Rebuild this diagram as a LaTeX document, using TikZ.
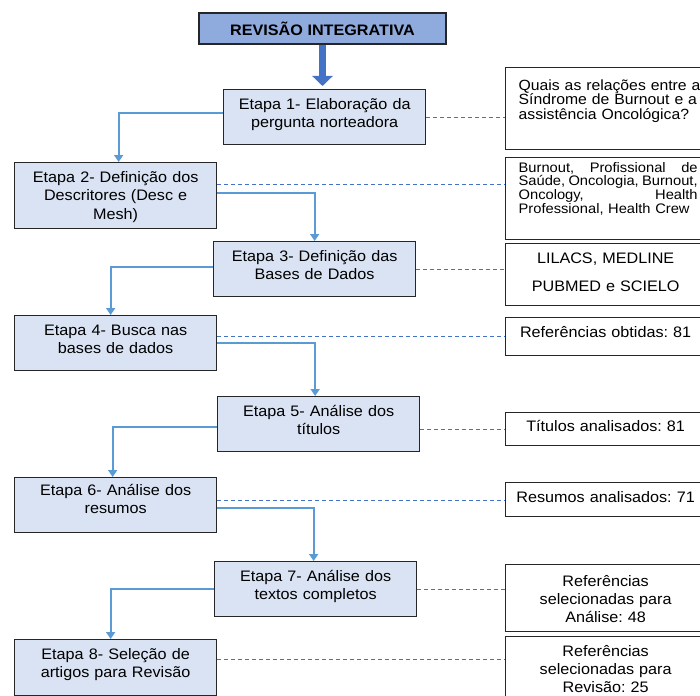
\documentclass[tikz,border=0pt]{standalone}
\usepackage{fontspec}
\setmainfont{Liberation Sans}[FakeStretch=1.065]
\usetikzlibrary{arrows.meta,positioning}
\definecolor{stagefill}{HTML}{DAE3F3}
\definecolor{titlefill}{HTML}{8FAADC}
\definecolor{flowblue}{HTML}{5B9BD5}
\definecolor{darkblue}{HTML}{4472C4}
\definecolor{boxline}{HTML}{262626}
\frenchspacing

\begin{document}
\begin{tikzpicture}[x=1pt, y=-1pt,
    stage/.style={draw=boxline, line width=1.3pt, fill=stagefill, anchor=north west, inner sep=0pt, text width=202pt, align=center, text height=19.5pt, text depth=35.5pt, font=\fontsize{15.2}{18.5}\selectfont},
    info/.style={draw=boxline, line width=1.3pt, fill=white, anchor=north west, inner sep=0pt, text width=200pt, align=center, font=\fontsize{15.2}{18}\selectfont},
    titlebox/.style={draw=boxline, line width=1.3pt, fill=titlefill, minimum width=247pt, minimum height=31pt, inner sep=0pt, font=\fontsize{15.2}{18}\selectfont\bfseries},
    flow/.style={-{Triangle[width=9pt,length=7pt]}, line width=2.2pt, draw=flowblue},
    link/.style={draw=darkblue, line width=1pt, dash pattern=on 4pt off 3pt},
    bigarrow/.style={-{Triangle[width=20pt,length=10pt]}, line width=7pt, draw=darkblue, shorten >=3pt}
  ]
    \useasboundingbox (0,0) rectangle (700,695);

    \node[titlebox] (title) at (322.5,28.5) {REVISÃO INTEGRATIVA};

    % etapas
    \node[stage] (step1) at (223,89) {Etapa 1- Elaboração da\\pergunta norteadora};
    \node[stage, text depth=46.5pt] (step2) at (14,162) {Etapa 2- Definição dos\\Descritores (Desc e\\Mesh)};
    \node[stage] (step3) at (213,241) {Etapa 3- Definição das\\Bases de Dados};
    \node[stage] (step4) at (14,315) {Etapa 4- Busca nas\\bases de dados};
    \node[stage] (step5) at (217,396) {Etapa 5- Análise dos\\títulos};
    \node[stage, text height=17.5pt, text depth=37.5pt] (step6) at (14,477) {Etapa 6- Análise dos\\resumos};
    \node[stage] (step7) at (214,561) {Etapa 7- Análise dos\\textos completos};
    \node[stage, text depth=36.5pt] (step8) at (14,639) {Etapa 8- Seleção de\\artigos para Revisão};

    % resultados
    \node[info, text width=196pt, inner xsep=13pt, align=left, text height=22.5pt, text depth=59.5pt, font=\fontsize{14.8}{14.6}\selectfont] (info1) at (505,67) {Quais as relações entre a\\Síndrome de Burnout e a\\assistência Oncológica?};
    \node[info, text width=179pt, inner xsep=13pt, align=left, text height=14.5pt, text depth=67.5pt, font=\fontsize{13.8}{13.7}\selectfont] (info2) at (505,157)
      {Burnout,\hfill Profissional\hfill de\\Saúde,\hfill Oncologia,\hfill Burnout,\\Oncology,\hfill Health\\Professional, Health Crew};
    \node[info, text height=19.5pt, text depth=42.5pt, font=\fontsize{15.2}{28}\selectfont] (info3) at (505,243) {LILACS, MEDLINE\\PUBMED e SCIELO};
    \node[info, text height=19.5pt, text depth=18.5pt] (info4) at (505,317) {Referências obtidas: 81};
    \node[info, text height=18.5pt, text depth=14.5pt] (info5) at (505,412) {Títulos analisados: 81};
    \node[info, text height=19.5pt, text depth=14.5pt] (info6) at (505,482) {Resumos analisados: 71};
    \node[info, text height=21.5pt, text depth=45.5pt] (info7) at (505,564) {Referências\\selecionadas para\\Análise: 48};
    \node[info, text height=19.5pt, text depth=45pt] (info8) at (505,636) {Referências\\selecionadas para\\Revisão: 25};

    \draw[bigarrow] (title.south) -- (title.south |- step1.north);

    \draw[flow] ([yshift=4pt]step1.west) -| ([xshift=3pt]step2.north);
    \draw[flow] ([yshift=3pt]step2.east) -| (step3.north);
    \draw[flow] ([yshift=2pt]step3.west) -| ([xshift=-5pt]step4.north);
    \draw[flow] (step4.east) -| ([xshift=-3.5pt]step5.north);
    \draw[flow] ([yshift=-2.5pt]step5.west) -| ([xshift=-3pt]step6.north);
    \draw[flow] ([yshift=-2.5pt]step6.east) -| ([xshift=-2pt]step7.north);
    \draw[flow] (step7.west) -| ([xshift=-5pt]step8.north);

    \draw[link] (step1.east) -- (step1.east -| info1.west);
    \draw[link] ([yshift=11pt]step2.east) -- ([yshift=11pt]step2.east -| info2.west);
    \draw[link] (step3.east) -- (step3.east -| info3.west);
    \draw[link] ([yshift=7pt]step4.east) -- ([yshift=7pt]step4.east -| info4.west);
    \draw[link] ([yshift=-5.5pt]step5.east) -- ([yshift=-5.5pt]step5.east -| info5.west);
    \draw[link] ([yshift=4.5pt]step6.east) -- ([yshift=4.5pt]step6.east -| info6.west);
    \draw[link] (step7.east) -- (step7.east -| info7.west);
    \draw[link] ([yshift=8pt]step8.east) -- ([yshift=8pt]step8.east -| info8.west);
  \end{tikzpicture}
\end{document}
